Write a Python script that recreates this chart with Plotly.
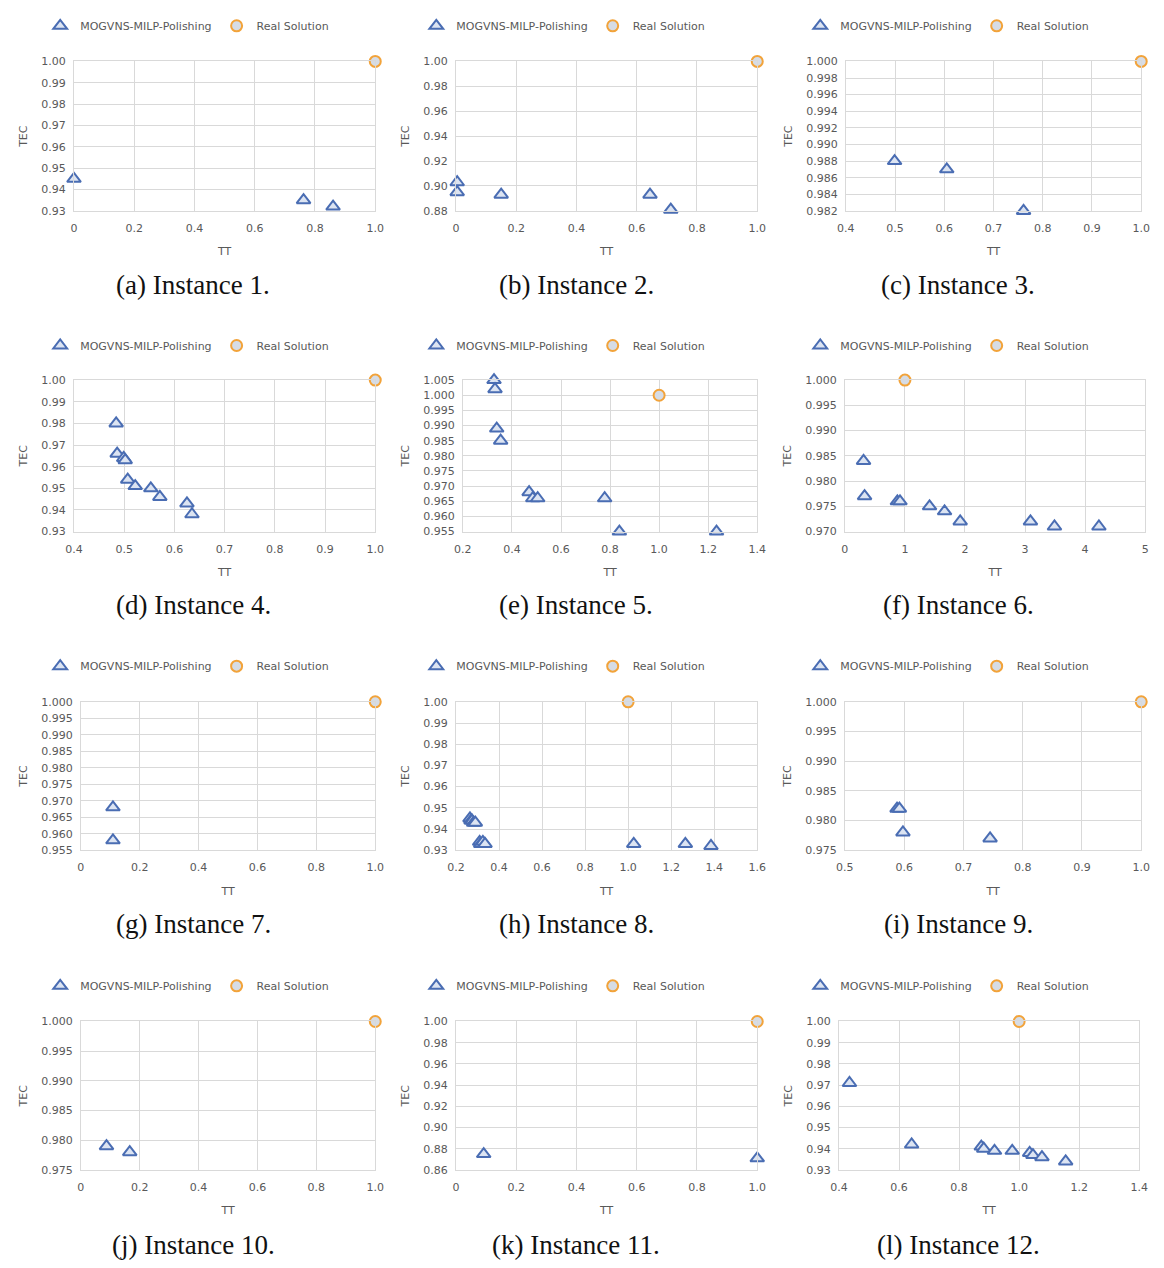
import plotly.graph_objects as go

# ---------------- data ----------------
SERIES_NAME = "MOGVNS-MILP-Polishing"
REAL_NAME = "Real Solution"
REAL_TT = [1.0]
REAL_TEC = [1.0]

TT_1 = [0.0, 0.762, 0.860]
TEC_1 = [0.945, 0.935, 0.932]
TT_2 = [0.004, 0.004, 0.150, 0.644, 0.713]
TEC_2 = [0.903, 0.895, 0.893, 0.893, 0.881]
TT_3 = [0.499, 0.605, 0.761]
TEC_3 = [0.988, 0.987, 0.982]
TT_4 = [0.484, 0.486, 0.499, 0.502, 0.507, 0.522, 0.553, 0.571, 0.625, 0.635]
TEC_4 = [0.980, 0.966, 0.964, 0.963, 0.954, 0.951, 0.950, 0.946, 0.943, 0.938]
TT_5 = [0.327, 0.331, 0.338, 0.354, 0.470, 0.485, 0.505, 0.778, 0.838, 1.234]
TEC_5 = [1.005, 1.002, 0.989, 0.985, 0.968, 0.966, 0.966, 0.966, 0.955, 0.955]
TT_6 = [0.311, 0.328, 0.874, 0.918, 1.41, 1.66, 1.92, 3.09, 3.49, 4.23]
TEC_6 = [0.984, 0.977, 0.976, 0.976, 0.975, 0.974, 0.972, 0.972, 0.971, 0.971]
TT_7 = [0.109, 0.109]
TEC_7 = [0.968, 0.958]
TT_8 = [0.265, 0.270, 0.275, 0.282, 0.290, 0.310, 0.315, 0.325, 0.335, 1.026, 1.266, 1.385]
TEC_8 = [0.945, 0.944, 0.944, 0.943, 0.943, 0.934, 0.933, 0.934, 0.933, 0.933, 0.933, 0.932]
TT_9 = [0.588, 0.592, 0.598, 0.745]
TEC_9 = [0.982, 0.982, 0.978, 0.977]
TT_10 = [0.087, 0.166]
TEC_10 = [0.979, 0.978]
TT_11 = [0.092, 1.0]
TEC_11 = [0.875, 0.871]
TT_12 = [0.435, 0.642, 0.874, 0.882, 0.918, 0.977, 1.035, 1.046, 1.076, 1.155]
TEC_12 = [0.971, 0.942, 0.941, 0.940, 0.939, 0.939, 0.938, 0.937, 0.936, 0.934]

CAPTIONS = ["(a) Instance 1.", "(b) Instance 2.", "(c) Instance 3.",
            "(d) Instance 4.", "(e) Instance 5.", "(f) Instance 6.",
            "(g) Instance 7.", "(h) Instance 8.", "(i) Instance 9.",
            "(j) Instance 10.", "(k) Instance 11.", "(l) Instance 12."]

XT_0_1 = ["0", "0.2", "0.4", "0.6", "0.8", "1.0"]
XT_04_1 = ["0.4", "0.5", "0.6", "0.7", "0.8", "0.9", "1.0"]
XT_02_14 = ["0.2", "0.4", "0.6", "0.8", "1.0", "1.2", "1.4"]
XT_0_5 = ["0", "1", "2", "3", "4", "5"]
XT_02_16 = ["0.2", "0.4", "0.6", "0.8", "1.0", "1.2", "1.4", "1.6"]
XT_05_1 = ["0.5", "0.6", "0.7", "0.8", "0.9", "1.0"]
XT_04_14 = ["0.4", "0.6", "0.8", "1.0", "1.2", "1.4"]

# y-axis: min, max, step, label decimals
Y_MIN = [0.93, 0.88, 0.982, 0.93, 0.955, 0.970, 0.955, 0.93, 0.975, 0.975, 0.86, 0.93]
Y_MAX = [1.00, 1.00, 1.000, 1.00, 1.005, 1.000, 1.000, 1.00, 1.000, 1.000, 1.00, 1.00]
Y_STEP = [0.01, 0.02, 0.002, 0.01, 0.005, 0.005, 0.005, 0.01, 0.005, 0.005, 0.02, 0.01]
Y_DEC = [2, 2, 3, 2, 3, 3, 3, 2, 3, 3, 2, 2]

TT_ALL = [TT_1, TT_2, TT_3, TT_4, TT_5, TT_6, TT_7, TT_8, TT_9, TT_10, TT_11, TT_12]
TEC_ALL = [TEC_1, TEC_2, TEC_3, TEC_4, TEC_5, TEC_6, TEC_7, TEC_8, TEC_9, TEC_10, TEC_11, TEC_12]
XTICKS = [XT_0_1, XT_0_1, XT_04_1, XT_04_1, XT_02_14, XT_0_5,
          XT_0_1, XT_02_16, XT_05_1, XT_0_1, XT_0_1, XT_04_14]

# ---------------- layout geometry (pixels) ----------------
W, H = 1164, 1268
PLOT_X = [(66, 372), (454, 760), (850, 1150),
          (66, 372), (461, 760), (849, 1154),
          (73, 372), (454, 760), (849, 1150),
          (73, 372), (454, 760), (843, 1148)]
ROW_Y = [(56, 207), (378, 531), (703, 853), (1026, 1176)]
LEG_Y = [20, 343, 667, 990]
LEG_XC = [181, 563, 953]
CAP_Y = [282, 605, 928, 1252]
CAP_XC = [187, 576, 964]

GRID = "#D9D9D9"
TXT = "#595959"
FONT = "DejaVu Sans"

fig = go.Figure()

for i in range(12):
    n = i + 1
    sfx = "" if n == 1 else str(n)
    row, col = divmod(i, 3)
    leg = "legend" + sfx
    fig.add_trace(go.Scatter(
        x=TT_ALL[i], y=TEC_ALL[i], mode="markers", name=SERIES_NAME,
        xaxis="x" + sfx, yaxis="y" + sfx, legend=leg, cliponaxis=False,
        marker=dict(symbol="triangle-up", size=12, color="#DCE4F2",
                    line=dict(color="#4A6DB3", width=2)),
        hoverinfo="skip"))
    fig.add_trace(go.Scatter(
        x=REAL_TT, y=REAL_TEC, mode="markers", name=REAL_NAME,
        xaxis="x" + sfx, yaxis="y" + sfx, legend=leg, cliponaxis=False,
        marker=dict(symbol="circle", size=11, color="#D6DCE5",
                    line=dict(color="#F2A33A", width=2)),
        hoverinfo="skip"))

    x0, x1 = PLOT_X[i]
    yt, yb = ROW_Y[row]
    xt = XTICKS[i]
    xv = [float(t) for t in xt]
    fig.layout["xaxis" + sfx] = dict(
        domain=[x0 / W, x1 / W], anchor="y" + sfx,
        range=[xv[0], xv[-1]], tickvals=xv, ticktext=xt,
        showgrid=True, gridcolor=GRID, gridwidth=1, zeroline=False,
        showline=True, linecolor=GRID, linewidth=1, mirror=True,
        ticks="", ticklabelstandoff=7,
        tickfont=dict(family=FONT, size=11, color=TXT),
        title=dict(text="TT", font=dict(family=FONT, size=11, color=TXT), standoff=13),
        fixedrange=True)
    fig.layout["yaxis" + sfx] = dict(
        domain=[1 - yb / H, 1 - yt / H], anchor="x" + sfx,
        range=[Y_MIN[i], Y_MAX[i]], dtick=Y_STEP[i], tick0=Y_MIN[i],
        tickformat=".%df" % Y_DEC[i],
        showgrid=True, gridcolor=GRID, gridwidth=1, zeroline=False,
        showline=True, linecolor=GRID, linewidth=1, mirror=True,
        ticks="", ticklabelstandoff=5,
        tickfont=dict(family=FONT, size=11, color=TXT),
        title=dict(text="TEC", font=dict(family=FONT, size=11, color=TXT), standoff=11),
        fixedrange=True)
    fig.layout[leg] = dict(
        orientation="h", x=LEG_XC[col] / W, xanchor="center",
        y=1 - LEG_Y[row] / H, yanchor="middle",
        font=dict(family=FONT, size=11, color=TXT),
        bgcolor="rgba(0,0,0,0)", itemwidth=30, traceorder="normal")
    fig.add_annotation(
        text=CAPTIONS[i], xref="paper", yref="paper",
        x=CAP_XC[col] / W, y=1 - CAP_Y[row] / H,
        xanchor="center", yanchor="middle", showarrow=False,
        font=dict(family="Liberation Serif", size=27, color="#111111"))

fig.update_layout(
    width=W, height=H, margin=dict(l=0, r=0, t=0, b=0),
    paper_bgcolor="white", plot_bgcolor="white", showlegend=True)

fig.write_html("out.html",
               post_script="document.body.style.margin='0';document.body.style.overflow='hidden';")
